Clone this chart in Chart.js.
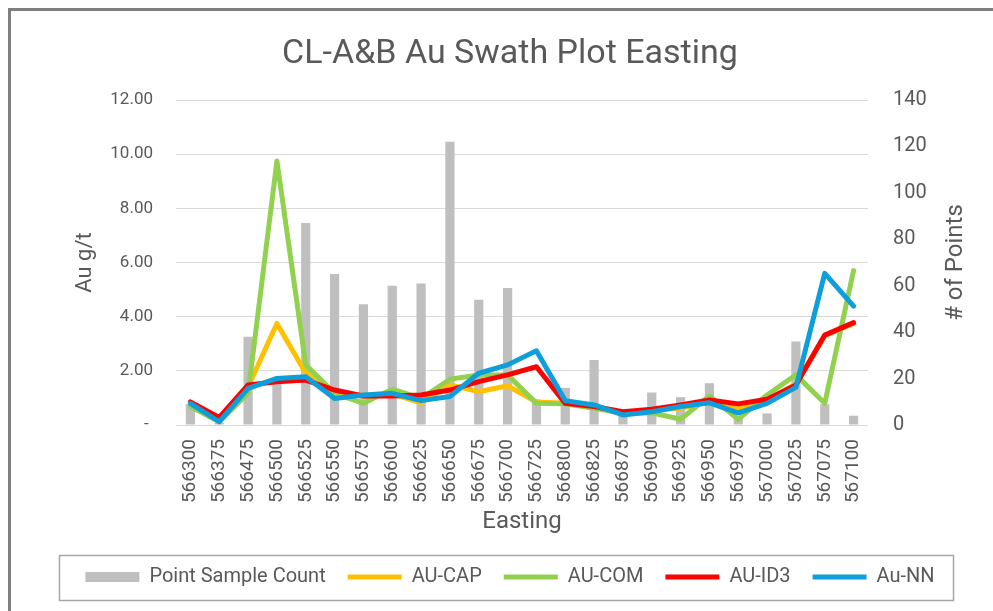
<!DOCTYPE html>
<html>
<head>
<meta charset="utf-8">
<script src="https://cdn.jsdelivr.net/npm/chart.js@4/dist/chart.umd.min.js"></script>
<style>
  html, body { margin: 0; padding: 0; background: #ffffff; }
  #wrap { width: 993px; height: 611px; }
</style>
</head>
<body>
<div id="wrap"><canvas id="c" width="993" height="611"></canvas></div>
<script>
const categories = ['566300','566375','566475','566500','566525','566550','566575','566600','566625','566650','566675','566700','566725','566800','566825','566875','566900','566925','566950','566975','567000','567025','567075','567100'];
const pointSampleCount = [9, 1, 38, 20, 87, 65, 52, 60, 61, 122, 54, 59, 11, 16, 28, 5, 14, 12, 18, 4, 5, 36, 9, 4];
const auCap = [0.75, 0.12, 1.40, 3.75, 1.91, 1.20, 1.08, 1.15, 0.82, 1.48, 1.23, 1.45, 0.85, 0.80, 0.70, 0.45, 0.55, 0.62, 0.85, 0.62, 0.90, 1.52, 3.30, 3.75];
const auCom = [0.68, 0.12, 1.17, 9.75, 2.22, 1.17, 0.80, 1.32, 0.98, 1.69, 1.85, 1.85, 0.80, 0.78, 0.62, 0.43, 0.45, 0.21, 1.07, 0.21, 1.11, 1.85, 0.80, 5.70];
const auId3 = [0.85, 0.28, 1.48, 1.60, 1.66, 1.29, 1.07, 1.07, 1.11, 1.29, 1.60, 1.85, 2.15, 0.80, 0.68, 0.49, 0.58, 0.74, 0.92, 0.78, 0.95, 1.48, 3.32, 3.78];
const auNn = [0.80, 0.12, 1.35, 1.72, 1.78, 0.98, 1.11, 1.17, 0.90, 1.05, 1.91, 2.22, 2.74, 0.90, 0.74, 0.37, 0.49, 0.68, 0.82, 0.45, 0.80, 1.39, 5.60, 4.39];
const leftTicksMax = 12, leftStep = 2;
const rightTicksMax = 140, rightStep = 20;
const rightTitle = '# of Points';

const TEXT = '#595959';
Chart.defaults.font.family = 'Roboto';
Chart.defaults.color = TEXT;

const framePlugin = {
  id: 'frame',
  beforeDraw(chart) {
    const ctx = chart.ctx;
    ctx.save();
    ctx.fillStyle = '#ffffff';
    ctx.fillRect(0, 0, chart.width, chart.height);
    ctx.strokeStyle = '#7f7f7f';
    ctx.lineWidth = 3;
    ctx.beginPath();
    ctx.moveTo(9.5, chart.height + 5);
    ctx.lineTo(9.5, 9.5);
    ctx.lineTo(chart.width + 5, 9.5);
    ctx.stroke();
    ctx.restore();
  },
  afterDraw(chart) {
    const ctx = chart.ctx;
    // right axis title, reading bottom-to-top
    const s = chart.scales.y1;
    const ca = chart.chartArea;
    ctx.save();
    ctx.translate(s.right - 24, (ca.top + ca.bottom) / 2);
    ctx.rotate(-Math.PI / 2);
    ctx.fillStyle = TEXT;
    ctx.font = '24px Roboto';
    ctx.textAlign = 'center';
    ctx.textBaseline = 'middle';
    ctx.fillText(rightTitle, 0, 0);
    ctx.restore();

    const lg = chart.legend;
    if (!lg || !lg.legendHitBoxes || !lg.legendHitBoxes.length) return;
    const hb = lg.legendHitBoxes;
    let l = Infinity, r = -Infinity, cy = 0;
    hb.forEach(h => { l = Math.min(l, h.left); r = Math.max(r, h.left + h.width); cy = h.top + h.height / 2; });
    ctx.save();
    ctx.strokeStyle = '#a6a6a6';
    ctx.lineWidth = 1.5;
    ctx.strokeRect(Math.round(l - 26) + 0.5, Math.round(cy - 22.5) + 0.5, Math.round(r - l + 45), 45);
    ctx.restore();
  }
};

const lineDs = (label, data, color, order) => ({
  type: 'line', label, data, yAxisID: 'y', borderColor: color, backgroundColor: color,
  borderWidth: 5, pointRadius: 0, pointHoverRadius: 0, tension: 0, order,
  borderCapStyle: 'round', borderJoinStyle: 'round', pointStyle: 'line', fill: false
});

new Chart(document.getElementById('c'), {
  data: {
    labels: categories,
    datasets: [
      { type: 'bar', label: 'Point Sample Count', data: pointSampleCount, yAxisID: 'y1',
        backgroundColor: '#bfbfbf', borderWidth: 0, barPercentage: 0.32, categoryPercentage: 1,
        order: 5, pointStyle: 'rect' },
      lineDs('AU-CAP', auCap, '#ffc000', 4),
      lineDs('AU-COM', auCom, '#92d050', 3),
      lineDs('AU-ID3', auId3, '#ff0000', 2),
      lineDs('Au-NN', auNn, '#0e9fda', 1)
    ]
  },
  options: {
    responsive: false,
    devicePixelRatio: 1,
    animation: false,
    layout: { padding: { left: 40, right: 13, top: 0, bottom: 14 } },
    plugins: {
      tooltip: { enabled: false },
      title: {
        display: true, text: 'CL-A&B Au Swath Plot Easting', color: TEXT,
        font: { size: 34, weight: 'normal' }, padding: { top: 34, bottom: 25.2 }
      },
      legend: {
        position: 'bottom',
        labels: {
          usePointStyle: true, pointStyleWidth: 54, boxHeight: 10,
          padding: 22, color: TEXT, font: { size: 20 },
          sort: (a, b) => a.datasetIndex - b.datasetIndex
        }
      }
    },
    scales: {
      x: {
        grid: { display: false, drawTicks: false },
        border: { display: false },
        ticks: { minRotation: 90, maxRotation: 90, autoSkip: false, padding: 14, color: TEXT, font: { size: 19 } },
        title: { display: true, text: 'Easting', color: TEXT, font: { size: 24 }, padding: { top: 0, bottom: 8.6 } },
        afterFit: s => { s.height = 120; }
      },
      y: {
        position: 'left', min: 0, max: leftTicksMax,
        grid: { color: '#d9d9d9', lineWidth: 1, drawTicks: false },
        border: { display: false },
        ticks: { stepSize: leftStep, padding: 23, color: TEXT, font: { size: 17 },
          callback: v => v === 0 ? '- ' : Number(v).toFixed(2) },
        title: { display: true, text: 'Au g/t', color: TEXT, font: { size: 22 }, padding: { top: 31.8, bottom: 0 } },
        afterFit: s => { s.width = 136; }
      },
      y1: {
        position: 'right', min: 0, max: rightTicksMax,
        grid: { drawOnChartArea: false, drawTicks: false },
        border: { display: false },
        ticks: { stepSize: rightStep, padding: 25, color: TEXT, font: { size: 20 } },
        title: { display: false },
        afterFit: s => { s.width = 112; }
      }
    }
  },
  plugins: [framePlugin]
});
</script>
</body>
</html>
